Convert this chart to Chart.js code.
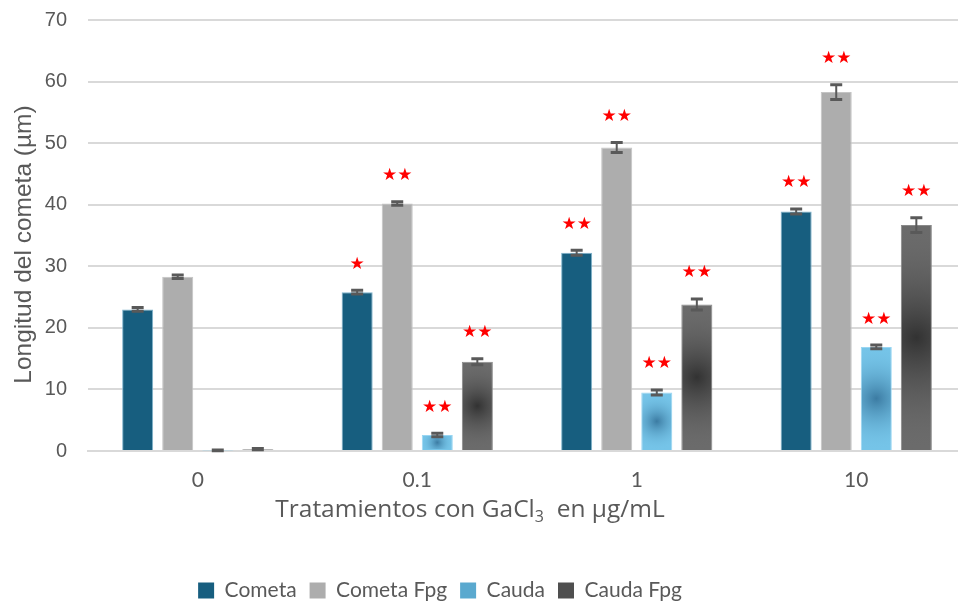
<!DOCTYPE html>
<html>
<head>
<meta charset="utf-8">
<script src="https://cdn.jsdelivr.net/npm/chart.js@4/dist/chart.umd.min.js"></script>
<style>
  html, body { margin: 0; padding: 0; background: #fff; overflow: hidden; }
  #wrap { width: 968px; height: 607px; }
</style>
</head>
<body>
<div id="wrap"><canvas id="c" width="968" height="607"></canvas></div>
<script>
// Comet assay lengths (µm) per GaCl3 treatment
const categories = ['0', '0.1', '1', '10'];
const seriesNames = ['Cometa', 'Cometa Fpg', 'Cauda', 'Cauda Fpg'];

const cometa     = [23.0, 25.8, 32.2, 38.9];
const cometaFpg  = [28.3, 40.2, 49.3, 58.3];
const cauda      = [0.1, 2.6, 9.5, 16.9];
const caudaFpg   = [0.3, 14.5, 23.8, 36.7];

// standard errors
const cometaErr    = [0.3, 0.3, 0.4, 0.4];
const cometaFpgErr = [0.3, 0.3, 0.8, 1.2];
const caudaErr     = [0.05, 0.3, 0.4, 0.3];
const caudaFpgErr  = [0.1, 0.5, 0.9, 1.2];

// significance marks
const cometaSig    = ['', '*', '**', '**'];
const cometaFpgSig = ['', '**', '**', '**'];
const caudaSig     = ['', '**', '**', '**'];
const caudaFpgSig  = ['', '**', '**', '**'];

const yTicks = [0, 10, 20, 30, 40, 50, 60, 70];

// axis titles; the x title is drawn with a real subscript
const xTitleParts = ['Tratamientos con GaCl', '3', '  en µg/mL'];
const yTitle = 'Longitud del cometa (µm)';

const errs = [cometaErr, cometaFpgErr, caudaErr, caudaFpgErr];
const sigs = [cometaSig, cometaFpgSig, caudaSig, caudaFpgSig];
// radial shading for the tail series: [center colour, edge colour] or null
const shades = [null, null, ['rgba(45,105,145,0.8)', 'rgba(117,196,232,0)'], ['rgba(40,40,40,0.85)', 'rgba(107,107,107,0)']];

const shadePlugin = {
  id: 'shade',
  afterDatasetDraw(chart, args) {
    const s = shades[args.index];
    if (!s) return;
    const ctx = chart.ctx;
    const meta = chart.getDatasetMeta(args.index);
    ctx.save();
    meta.data.forEach(el => {
      const top = Math.min(el.y, el.base), h = Math.abs(el.base - el.y);
      if (h < 2) return;
      const cx = el.x, cy = top + h / 2;
      const r = Math.max(el.width, h) * 0.5;
      const g = ctx.createRadialGradient(cx, cy, 0, cx, cy, r);
      g.addColorStop(0, s[0]);
      g.addColorStop(1, s[1]);
      ctx.fillStyle = g;
      ctx.fillRect(el.x - el.width / 2 + 1, top + 1, el.width - 2, h - 2);
    });
    ctx.restore();
  }
};

const errorPlugin = {
  id: 'errors',
  afterDatasetsDraw(chart) {
    const ctx = chart.ctx;
    const y = chart.scales.y;
    ctx.save();
    chart.data.datasets.forEach((ds, i) => {
      const meta = chart.getDatasetMeta(i);
      meta.data.forEach((el, j) => {
        const v = ds.data[j], e = errs[i][j];
        const yHi = y.getPixelForValue(v + e), yLo = y.getPixelForValue(v - e);
        ctx.strokeStyle = '#595959';
        ctx.lineWidth = 2;
        ctx.beginPath();
        ctx.moveTo(el.x, yHi); ctx.lineTo(el.x, yLo);
        ctx.stroke();
        ctx.lineWidth = 3;
        ctx.beginPath();
        ctx.moveTo(el.x - 6, yHi); ctx.lineTo(el.x + 6, yHi);
        ctx.moveTo(el.x - 6, yLo); ctx.lineTo(el.x + 6, yLo);
        ctx.stroke();
        const mark = sigs[i][j];
        if (mark) {
          ctx.fillStyle = '#ff0000';
          ctx.font = '17px "DejaVu Sans"';
          ctx.textAlign = 'center';
          ctx.textBaseline = 'middle';
          ctx.fillText(mark.replace(/\*/g, '★'), el.x, yHi - 26);
        }
      });
    });
    ctx.restore();
  }
};

// axis titles and legend placement
const titlePlugin = {
  id: 'axisTitles',
  afterLayout(chart) {
    chart.legend.left -= 43;
    chart.legend.right -= 43;
  },
  afterDraw(chart) {
    const ctx = chart.ctx;
    const area = chart.chartArea;
    const big = '24.5px "Open Sans"', small = '16px "Open Sans"';
    ctx.save();
    ctx.fillStyle = '#595959';
    ctx.textBaseline = 'alphabetic';
    ctx.textAlign = 'left';
    ctx.font = big;
    const w0 = ctx.measureText(xTitleParts[0]).width;
    const w2 = ctx.measureText(xTitleParts[2]).width;
    ctx.font = small;
    const w1 = ctx.measureText(xTitleParts[1]).width;
    const base = chart.scales.x.bottom - 50;
    let x = 470 - (w0 + w1 + w2) / 2;
    ctx.font = big;
    ctx.fillText(xTitleParts[0], x, base); x += w0;
    ctx.font = small;
    ctx.fillText(xTitleParts[1], x, base + 5); x += w1;
    ctx.font = big;
    ctx.fillText(xTitleParts[2], x, base);

    // vertical title
    ctx.translate(24, (area.top + area.bottom) / 2 + 9);
    ctx.rotate(-Math.PI / 2);
    ctx.textAlign = 'center';
    ctx.textBaseline = 'middle';
    ctx.font = '24.5px "Liberation Sans"';
    ctx.fillText(yTitle, 0, 0);
    ctx.restore();
  }
};

const colors = ['#175e7f', '#adadad', '#75c4e8', '#6b6b6b'];
const borders = ['#7fb3cc', '#c4c4c4', '#9ad6f2', '#8a8a8a'];
const values = [cometa, cometaFpg, cauda, caudaFpg];

new Chart(document.getElementById('c'), {
  type: 'bar',
  data: {
    labels: categories,
    datasets: seriesNames.map((n, i) => ({
      label: n,
      data: values[i],
      backgroundColor: colors[i],
      borderColor: borders[i],
      borderWidth: 1,
      categoryPercentage: 0.73,
      barPercentage: 0.775
    }))
  },
  options: {
    responsive: false,
    animation: false,
    layout: { padding: { top: 20, right: 2, left: 0, bottom: -4 } },
    plugins: {
      tooltip: { enabled: false },
      legend: {
        position: 'bottom',
        labels: {
          boxWidth: 16, boxHeight: 16, padding: 13,
          color: '#595959',
          font: { family: 'Lato', size: 21 },
          generateLabels(chart) {
            return chart.data.datasets.map((ds, i) => ({
              text: ds.label,
              fillStyle: i === 2 ? '#5aa9cf' : (i === 3 ? '#4f4f4f' : colors[i]),
              strokeStyle: 'rgba(0,0,0,0)',
              lineWidth: 0,
              fontColor: '#595959',
              datasetIndex: i
            }));
          }
        }
      }
    },
    scales: {
      x: {
        grid: { display: false },
        border: { display: true, color: '#d9d9d9', width: 2 },
        ticks: { color: '#595959', font: { family: 'Lato', size: 21 }, padding: 9 },
        afterFit(s) { s.height = 116; s.paddingLeft = 0; s.paddingRight = 0; }
      },
      y: {
        min: 0, max: 70,
        afterBuildTicks(s) { s.ticks = yTicks.map(v => ({ value: v })); },
        grid: { color: '#d9d9d9', lineWidth: 2, drawTicks: false },
        border: { display: false },
        ticks: { color: '#595959', font: { family: 'Liberation Sans', size: 20 }, padding: 21 },
        afterFit(s) { s.width = 88; s.paddingTop = 0; s.paddingBottom = 0; }
      }
    }
  },
  plugins: [shadePlugin, errorPlugin, titlePlugin]
});
</script>
</body>
</html>
